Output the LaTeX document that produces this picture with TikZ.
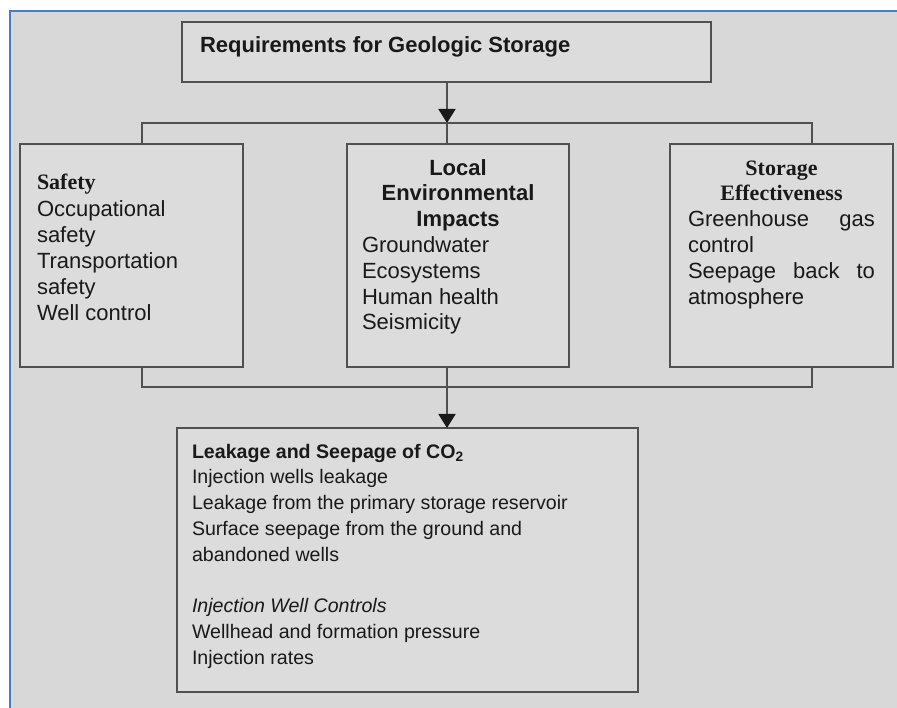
\documentclass[tikz,border=0pt]{standalone}
\usepackage{fontspec}
\setmainfont{Liberation Sans}
\newfontfamily\headfont{Liberation Serif}
\usetikzlibrary{arrows.meta}
\definecolor{pagegray}{RGB}{216,216,216}
\definecolor{panelgray}{RGB}{220,220,220}
\definecolor{edgegray}{RGB}{80,80,80}
\definecolor{inkgray}{RGB}{25,25,25}
\definecolor{frameblue}{RGB}{74,126,196}
\begin{document}
\begin{tikzpicture}[
	x=1pt, y=-1pt,
	every node/.style={font=\fontsize{22}{25.8}\selectfont, text=inkgray},
	panel/.style={draw=edgegray, line width=1.6pt, fill=panelgray, anchor=north west, outer sep=0pt, inner ysep=13pt},
	wire/.style={draw=edgegray, line width=1.8pt},
	wirearrow/.style={wire, -{Triangle[width=17pt,length=14pt,color=inkgray]}},
]
\useasboundingbox (0,0) rectangle (897,708);
\fill[white] (0,0) rectangle (897,708);
\fill[pagegray] (9,10) rectangle (897,708);
\draw[frameblue, line width=2.2pt] (10,708) -- (10,11) -- (897,11);

\node[panel, inner xsep=18pt, inner ysep=12pt] (req) at (182,22) {\parbox[t][36pt][t]{493pt}{\strut\textbf{Requirements for Geologic Storage}}};
\node[panel, inner xsep=17pt] (safety) at (20,144) {\parbox[t][197pt][t]{189pt}{\vspace*{14pt}\strut{\headfont\bfseries Safety}\\[2pt]
	Occupational\\ safety\\ Transportation\\ safety\\ Well control}};
\node[panel, inner xsep=15pt] (envimp) at (347,144) {\parbox[t][197pt][t]{192pt}{\strut{\centering\bfseries Local\\ Environmental\\ Impacts\par}
	Groundwater\\ Ecosystems\\ Human health\\ Seismicity}};
\node[panel, inner xsep=18pt] (storeff) at (670,144) {\parbox[t][197pt][t]{187pt}{\strut{\centering\headfont\bfseries Storage\\ Effectiveness\par}
	Greenhouse\hfill gas\\ control\\ Seepage\hfill back\hfill to\\ atmosphere}};
\node[panel, inner xsep=15pt, inner ysep=12pt, font=\fontsize{19.6}{25.8}\selectfont] (leakage) at (177,428) {\parbox[t][240pt][t]{431pt}{\strut\textbf{Leakage and Seepage of CO\textsubscript{2}}\\
	Injection wells leakage\\ Leakage from the primary storage reservoir\\ Surface seepage from the ground and\\ abandoned wells\\[25.8pt]
	\textit{Injection Well Controls}\\ Wellhead and formation pressure\\ Injection rates}};

\coordinate (splitTop) at (447,123);
\coordinate (leftTop) at (142,123);
\coordinate (rightTop) at (812,123);
\coordinate (splitBot) at (447,387);
\coordinate (leftBot) at (142,387);
\coordinate (rightBot) at (812,387);

\draw[wirearrow] (req.south -| splitTop) -- (splitTop);
\draw[wire] (splitTop) -- (splitTop |- envimp.north);
\draw[wire] (leftTop |- safety.north) -- (leftTop) -- (rightTop) -- (rightTop |- storeff.north);
\draw[wire] (leftBot |- safety.south) -- (leftBot) -- (rightBot) -- (rightBot |- storeff.south);
\draw[wire] (splitBot |- envimp.south) -- (splitBot);
\draw[wirearrow] (splitBot) -- (splitBot |- leakage.north);
\end{tikzpicture}
\end{document}
